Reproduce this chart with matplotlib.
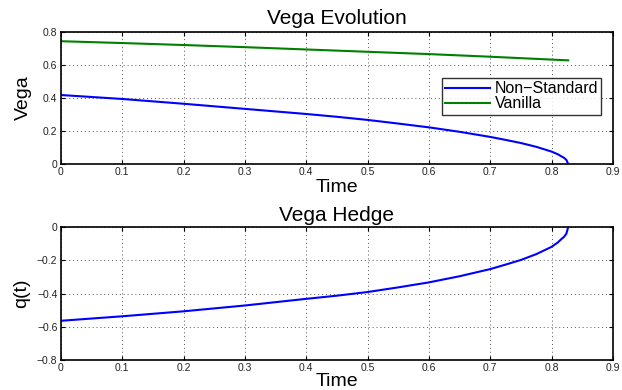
import numpy as np
import matplotlib.pyplot as plt

plt.rcParams['font.family'] = ['Liberation Sans', 'DejaVu Sans']

# Data
t_ns = [0, 0.1, 0.2, 0.3, 0.4, 0.45, 0.5, 0.55, 0.6, 0.65, 0.7, 0.725, 0.75, 0.775, 0.8,
        0.81, 0.816, 0.82, 0.824, 0.827]
vega_ns = [0.418, 0.394, 0.365, 0.334, 0.303, 0.286, 0.267, 0.245, 0.222, 0.195, 0.164, 0.146,
           0.127, 0.104, 0.075, 0.059, 0.046, 0.038, 0.025, 0.0]
t_van = [0, 0.1, 0.2, 0.3, 0.4, 0.5, 0.6, 0.7, 0.827]
vega_van = [0.744, 0.733, 0.721, 0.708, 0.694, 0.680, 0.666, 0.650, 0.628]
q_t = [-0.564, -0.537, -0.507, -0.472, -0.432, -0.413, -0.391, -0.363, -0.333, -0.296, -0.253,
       -0.226, -0.198, -0.163, -0.119, -0.093, -0.072, -0.060, -0.040, 0.0]

xticks = [0, 0.1, 0.2, 0.3, 0.4, 0.5, 0.6, 0.7, 0.8, 0.9]
xtick_labels = ['0', '0.1', '0.2', '0.3', '0.4', '0.5', '0.6', '0.7', '0.8', '0.9']

fig = plt.figure(figsize=(6.22, 3.90), dpi=100)
ax1 = fig.add_axes([0.098, 0.5795, 0.8875, 0.3385])
ax2 = fig.add_axes([0.098, 0.0769, 0.8875, 0.341])


def style(ax, yticks, ylabels):
    ax.set_xlim(0, 0.9)
    ax.set_xticks(xticks)
    ax.set_xticklabels(xtick_labels)
    ax.set_yticks(yticks)
    ax.set_yticklabels(ylabels)
    ax.tick_params(direction='in', top=True, right=True, length=3, width=0.8,
                   labelsize=7.5, labelcolor='#222222', pad=2.5)
    ax.grid(True, linestyle=(0, (1, 3)), color='#555555', linewidth=0.7)
    for s in ax.spines.values():
        s.set_linewidth(1.2)


ax1.plot(t_ns, vega_ns, color='#0000ff', lw=1.5, label='Non\u2212Standard')
ax1.plot(t_van, vega_van, color='#008000', lw=1.5, label='Vanilla')
ax1.set_ylim(0, 0.8)
style(ax1, [0, 0.2, 0.4, 0.6, 0.8], ['0', '0.2', '0.4', '0.6', '0.8'])
ax1.set_title('Vega Evolution', fontsize=15, pad=6)
ax1.set_xlabel('Time', fontsize=14, labelpad=1)
ax1.set_ylabel('Vega', fontsize=14, labelpad=8)
leg = ax1.legend(loc='upper left', bbox_to_anchor=(0.69, 0.65), fontsize=11.5,
                 frameon=True, fancybox=False, borderpad=0.2, labelspacing=0.0,
                 handlelength=2.8, handletextpad=0.3, borderaxespad=0)
leg.get_frame().set_edgecolor('black')
leg.get_frame().set_linewidth(1.0)

ax2.plot(t_ns, q_t, color='#0000ff', lw=1.5)
ax2.set_ylim(-0.8, 0)
style(ax2, [-0.8, -0.6, -0.4, -0.2, 0],
      ['\u22120.8', '\u22120.6', '\u22120.4', '\u22120.2', '0'])
ax2.set_title('Vega Hedge', fontsize=15, pad=4)
ax2.set_xlabel('Time', fontsize=14, labelpad=0)
ax2.set_ylabel('q(t)', fontsize=14, labelpad=5)

fig.savefig('out.png', dpi=100)
